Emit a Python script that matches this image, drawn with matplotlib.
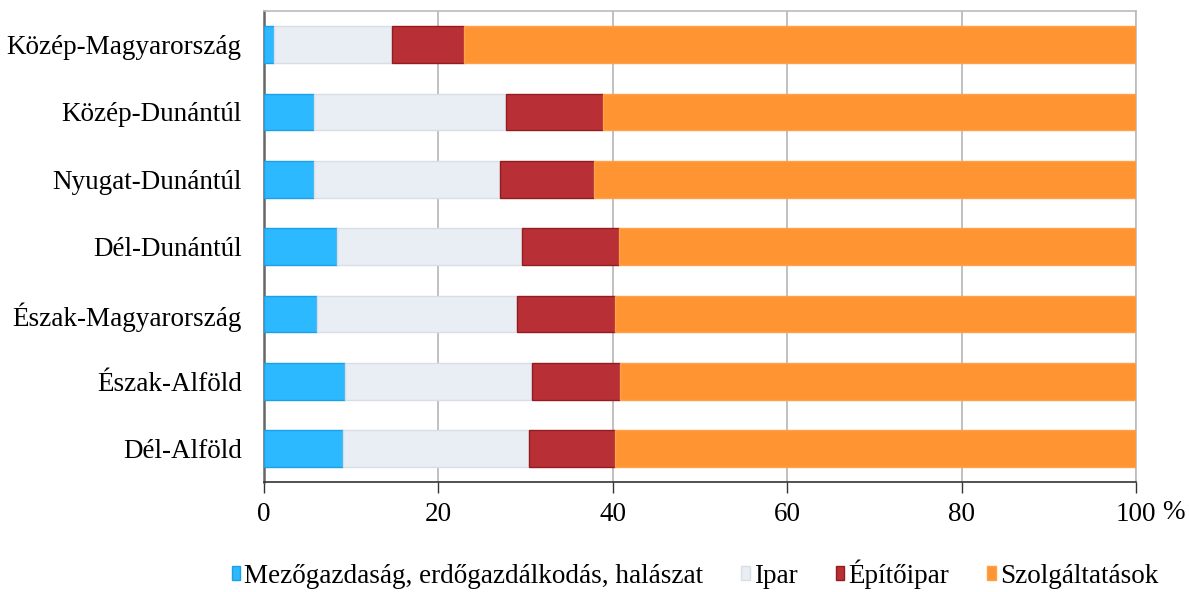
import matplotlib
matplotlib.use("Agg")
import matplotlib.pyplot as plt

regions = ["Közép-Magyarország", "Közép-Dunántúl", "Nyugat-Dunántúl", "Dél-Dunántúl",
           "Észak-Magyarország", "Észak-Alföld", "Dél-Alföld"]
series_names = ["Mezőgazdaság, erdőgazdálkodás, halászat", "Ipar", "Építőipar", "Szolgáltatások"]
agri = [1.1, 5.7, 5.7, 8.4, 6.1, 9.3, 9.1]
ipar = [13.6, 22.1, 21.4, 21.2, 22.9, 21.4, 21.3]
epito = [8.2, 11.1, 10.7, 11.1, 11.2, 10.1, 9.8]
szolg = [77.1, 61.1, 62.2, 59.3, 59.8, 59.2, 59.8]
xticks = [0, 20, 40, 60, 80, 100]

plt.rcParams['font.family'] = ['Liberation Serif', 'DejaVu Serif']
FS = 19.5

fig = plt.figure(figsize=(11.89, 5.92), dpi=100)
ax = fig.add_axes([0.222, 0.185, 0.7334, 0.7966])

faces = ["#2DB9FF", "#E9EDF4", "#B83036", "#FF9433"]
edges = ["#1C9FE6", "#D9DEE6", "#931C21", "#FFA04A"]
data = [agri, ipar, epito, szolg]
y = list(range(len(regions)))
left = [0.0] * len(regions)
for vals, name, fc, ec in zip(data, series_names, faces, edges):
    ax.barh(y, vals, left=left, height=0.545, color=fc, edgecolor=ec, linewidth=1.0,
            label=name, zorder=3)
    left = [l + v for l, v in zip(left, vals)]

ax.set_xlim(0, 100)
ax.set_ylim(6.5, -0.5)
ax.set_yticks(y)
ax.set_yticklabels(regions, fontsize=FS)
ax.tick_params(axis='y', length=0, pad=16)
ax.set_xticks(xticks)
ax.set_xticklabels([str(t) for t in xticks], fontsize=FS)
ax.tick_params(axis='x', direction='out', length=8, width=1, color='#333333', pad=6)
ax.annotate("%", xy=(100, 0), xycoords=('data', 'axes fraction'),
            xytext=(18.5, -21.5), textcoords='offset points', ha='left', va='center',
            fontsize=FS)

ax.grid(axis='x', color='#B5B5B5', linewidth=1.2, zorder=0)
ax.set_axisbelow(True)
for s in ['top', 'right']:
    ax.spines[s].set_color('#BBBBBB')
    ax.spines[s].set_linewidth(1.2)
ax.spines['left'].set_color('#666666')
ax.spines['left'].set_linewidth(1.8)
ax.spines['bottom'].set_color('#333333')
ax.spines['bottom'].set_linewidth(1.2)

fig.legend(loc='center', bbox_to_anchor=(0.5845, 0.030), ncol=4, frameon=False,
           fontsize=FS, handlelength=0.32, handleheight=0.4, handletextpad=0.15,
           columnspacing=1.4)

fig.savefig("out.png", dpi=100)
